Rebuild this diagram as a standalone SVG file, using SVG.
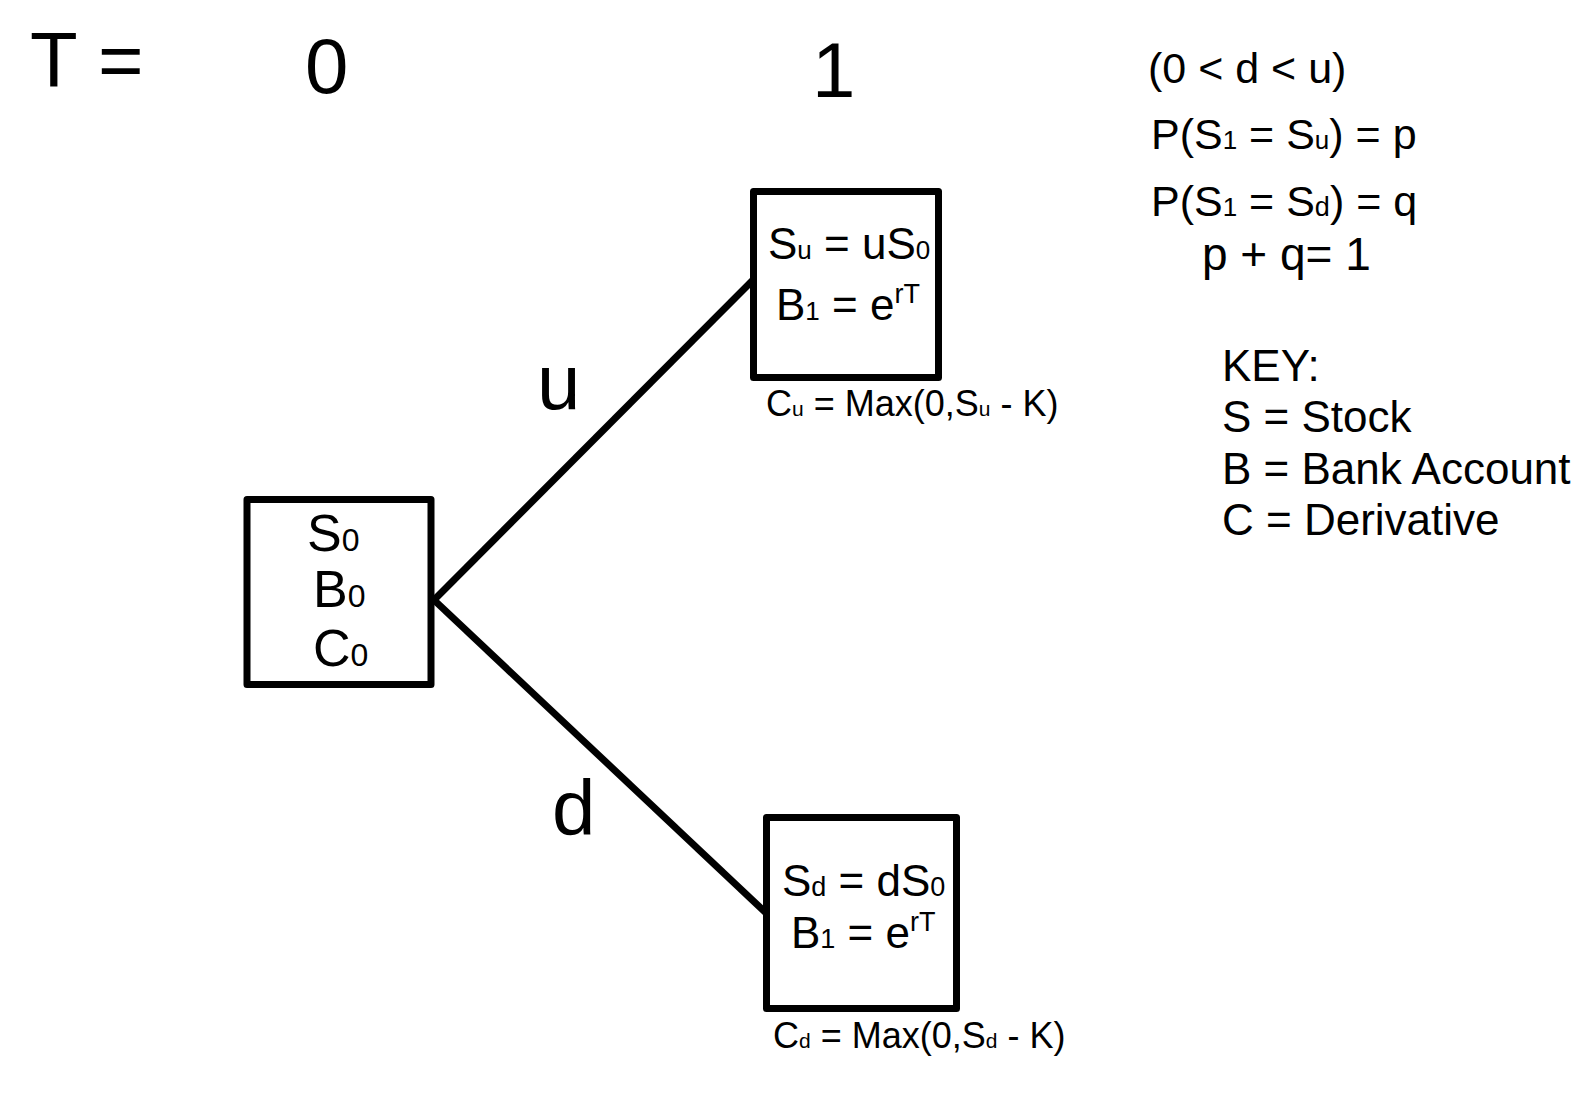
<svg xmlns="http://www.w3.org/2000/svg" width="1582" height="1095" viewBox="0 0 1582 1095">
<style>
text { font-family: "Liberation Sans", Arial, sans-serif; fill: #000; }
.box { fill: #fff; stroke: #000; stroke-width: 7; stroke-linejoin: round; }
.edge { stroke: #000; stroke-width: 7; fill: none; }
.big { font-size: 78px; }
.mid { font-size: 44px; }
.sm { font-size: 36px; }
.key { font-size: 43px; }
.leg { font-size: 44px; }
.node0 { font-size: 52px; }
</style>
<rect width="1582" height="1095" fill="#fff"/>
<g id="header">
  <text class="big" x="30" y="87">T =</text>
  <text class="big" x="305" y="93">0</text>
  <text class="big" x="812" y="97">1</text>
</g>
<g id="connectors">
  <line class="edge" x1="434" y1="600" x2="753" y2="280"/>
  <line class="edge" x1="434" y1="600" x2="766" y2="913"/>
  <text class="big" x="537" y="409">u</text>
  <text class="big" x="552" y="835">d</text>
</g>
<g id="node-s0">
  <rect class="box" x="247" y="499.5" width="184" height="185"/>
  <text class="node0" x="307" y="551">S<tspan font-size="32">0</tspan></text>
  <text class="node0" x="313" y="607">B<tspan font-size="32">0</tspan></text>
  <text class="node0" x="313" y="666">C<tspan font-size="32">0</tspan></text>
</g>
<g id="node-up">
  <rect class="box" x="753.5" y="191.5" width="185" height="186"/>
  <text class="mid" x="768" y="259">S<tspan font-size="26">u</tspan> = uS<tspan font-size="26">0</tspan></text>
  <text class="mid" x="776" y="320">B<tspan font-size="26">1</tspan> = e<tspan font-size="27" dy="-17">rT</tspan></text>
  <text class="sm" x="766" y="416">C<tspan font-size="21">u</tspan> = Max(0,S<tspan font-size="21">u</tspan> - K)</text>
</g>
<g id="node-down">
  <rect class="box" x="766.5" y="817.5" width="190" height="191"/>
  <text class="mid" x="782" y="896">S<tspan font-size="27">d</tspan> = dS<tspan font-size="27">0</tspan></text>
  <text class="mid" x="791" y="948">B<tspan font-size="27">1</tspan> = e<tspan font-size="27" dy="-17">rT</tspan></text>
  <text class="sm" x="773" y="1048">C<tspan font-size="21">d</tspan> = Max(0,S<tspan font-size="21">d</tspan> - K)</text>
</g>
<g id="conditions">
  <text class="key" x="1148" y="83" font-size="44">(0 &lt; d &lt; u)</text>
  <text class="key" x="1151" y="149">P(S<tspan font-size="26">1</tspan> = S<tspan font-size="26">u</tspan>) = p</text>
  <text class="key" x="1151" y="216">P(S<tspan font-size="26">1</tspan> = S<tspan font-size="27">d</tspan>) = q</text>
  <text class="key" x="1202" y="270" style="font-size:46px">p + q= 1</text>
</g>
<g id="legend">
  <text class="leg" x="1222" y="381">KEY:</text>
  <text class="leg" x="1222" y="432">S = Stock</text>
  <text class="leg" x="1222" y="484">B = Bank Account</text>
  <text class="leg" x="1222" y="535">C = Derivative</text>
</g>
</svg>
